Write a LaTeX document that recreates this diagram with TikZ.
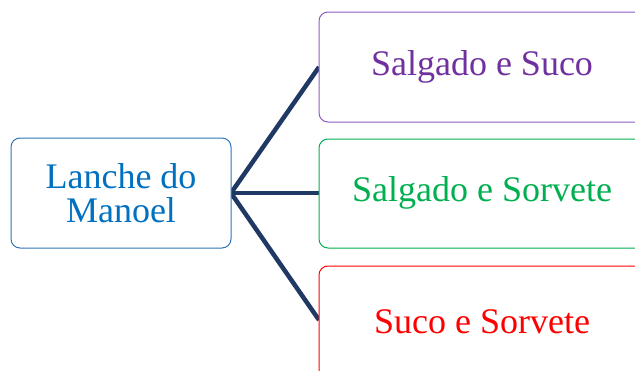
\documentclass[tikz,border=0pt]{standalone}
\usepackage{fontspec}
\setmainfont{Liberation Serif}
\definecolor{blueT}{HTML}{0070C0}
\definecolor{blueB}{HTML}{2E75B6}
\definecolor{purpT}{HTML}{7030A0}
\definecolor{purpB}{HTML}{8E5CC4}
\definecolor{greenT}{HTML}{00B050}
\definecolor{redT}{HTML}{FF0000}
\definecolor{navy}{HTML}{1F3864}
\begin{document}
\begin{tikzpicture}[x=1pt,y=-1pt,
  box/.style={draw,line width=1pt,rounded corners=9pt,fill=white},
  lbl/.style={font=\fontsize{36}{34}\selectfont,align=center},
  conn/.style={draw=navy,line width=4.5pt}]
\useasboundingbox (0,0) rectangle (635,370);
\clip (0,0) rectangle (635,370);
\coordinate (c1) at (319,67);
\coordinate (c2) at (319,193);
\coordinate (c3) at (319,320);
\coordinate (src) at (231,193);
\draw[conn] (src) -- (c1);
\draw[conn] (src) -- (c2);
\draw[conn] (src) -- (c3);
\draw[box,draw=blueB] (11,138) rectangle (231,248);
\node[lbl,text=blueT] (lanche) at (121,193) {Lanche do\\Manoel};
\draw[box,draw=purpB] (319,12) rectangle (645,122);
\node[lbl,text=purpT] (s1) at (482,67) {Salgado e Suco};
\draw[box,draw=greenT] (319,139) rectangle (645,248);
\node[lbl,text=greenT] (s2) at (482,193) {Salgado e Sorvete};
\draw[box,draw=redT] (319,266) rectangle (645,385);
\node[lbl,text=redT] (s3) at (482,322) {Suco e Sorvete};
\end{tikzpicture}
\end{document}
